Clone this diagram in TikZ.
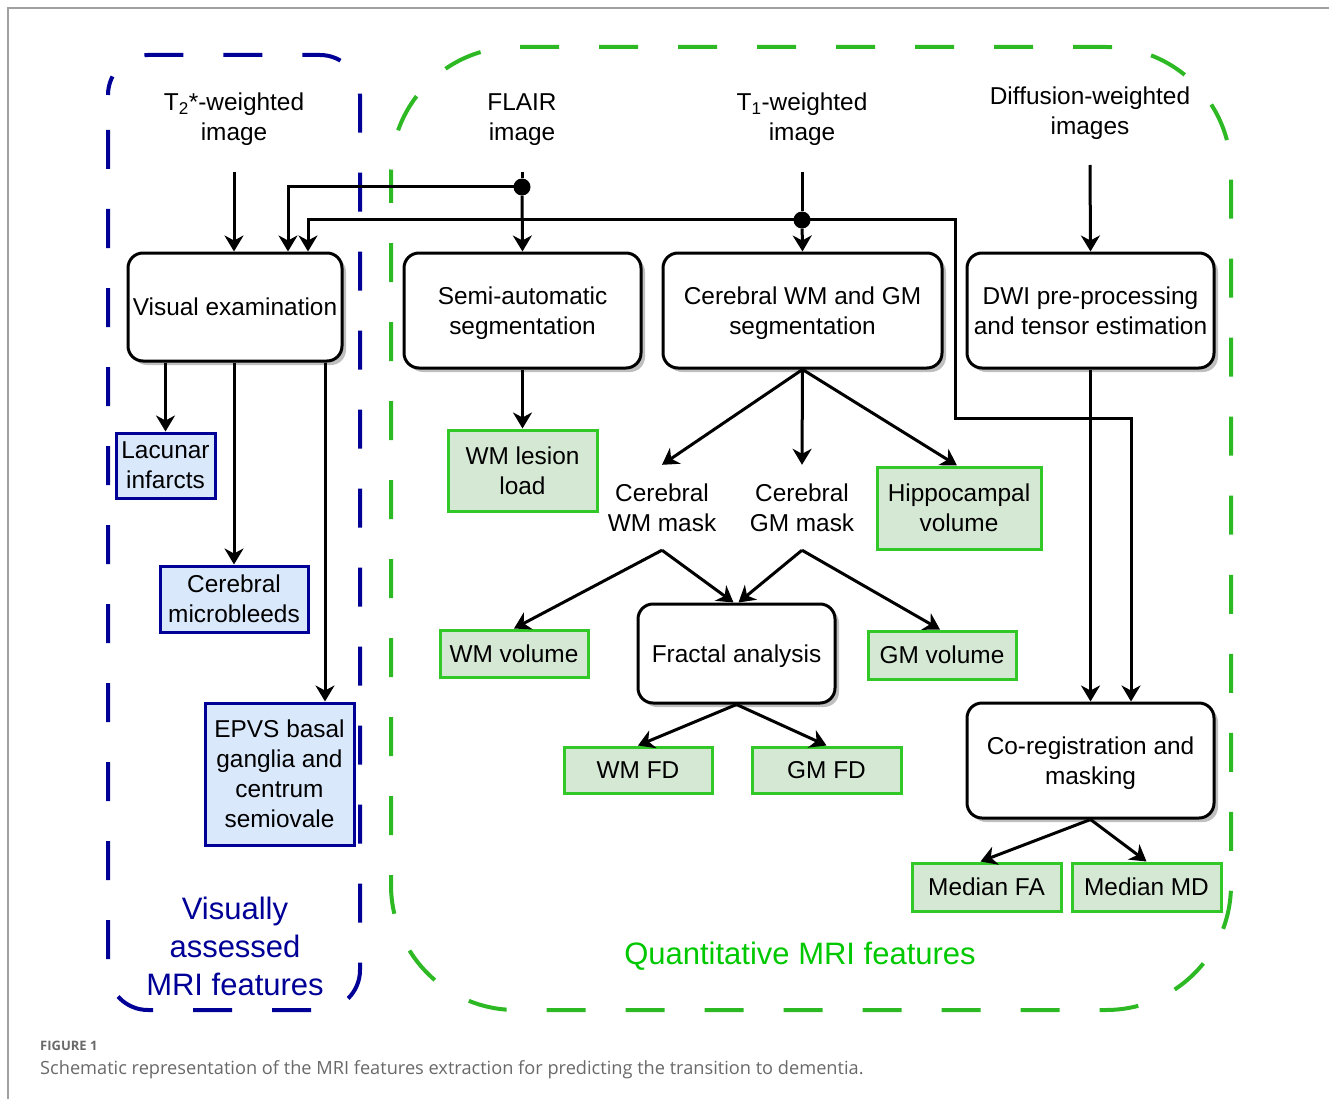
\documentclass[tikz,border=0pt]{standalone}
\usepackage{fontspec}
\setmainfont{Liberation Sans}
\newfontfamily\capfont{Open Sans}
\usetikzlibrary{arrows.meta,shadows}
\definecolor{vblue}{RGB}{0,0,150}
\definecolor{lblue}{RGB}{218,232,252}
\definecolor{dgreen}{RGB}{45,185,35}
\definecolor{bgreen}{RGB}{50,200,40}
\definecolor{lgreen}{RGB}{213,232,212}
\definecolor{tgreen}{RGB}{0,200,0}
\definecolor{framegray}{RGB}{160,160,160}
\definecolor{capgray}{RGB}{105,105,105}
\newcommand\boxfont{\fontsize{24.4}{30}\selectfont}
\newcommand\bigfont{\fontsize{31}{38}\selectfont}
\tikzset{
  proc/.style={draw=black, line width=3pt, rounded corners=15pt, fill=white,
    drop shadow={shadow xshift=4pt, shadow yshift=-4pt, fill=black!25, opacity=1},
    align=center, inner sep=0pt, font=\boxfont, text depth=0pt},
  bluebox/.style={draw=vblue, fill=lblue, line width=3pt, align=center, inner sep=0pt, font=\boxfont, text depth=0pt},
  greenbox/.style={draw=bgreen, fill=lgreen, line width=3pt, align=center, inner sep=0pt, font=\boxfont, text depth=0pt},
  lbl/.style={align=center, inner sep=0pt, font=\boxfont, text depth=0pt},
  arr/.style={-{Stealth[length=16pt,width=19pt,inset=5pt]}, line width=3pt},
  plainline/.style={line width=3pt},
  jdot/.style={circle, fill=black, inner sep=0pt, minimum size=17pt},
  outlineblue/.style={draw=vblue, line width=4pt, dash pattern=on 39pt off 40pt, rounded corners=40pt},
  outlinegreen/.style={draw=dgreen, line width=4pt, dash pattern=on 39pt off 40pt, rounded corners=125pt}
}
\begin{document}
\begin{tikzpicture}[x=1pt,y=-1pt]
\useasboundingbox (0,0) rectangle (1329,1099);
% frame
\draw[framegray, line width=1.5pt] (8,1099) -- (8,8) -- (1329,8);
% group outlines
\draw[outlineblue, dash phase=44pt] (108,55) rectangle (360,1010);
\draw[outlinegreen, dash phase=8pt] (391,47) rectangle (1231,1010);
% input labels
\node[lbl] (t2) at (234,117) {T\textsubscript{2}*-weighted\\image};
\node[lbl] (flair) at (522,117) {FLAIR\\image};
\node[lbl] (t1) at (802,117) {T\textsubscript{1}-weighted\\image};
\node[lbl] (dwil) at (1090,111) {Diffusion-weighted\\images};
\coordinate (t2o) at (234,172);
\coordinate (flo) at (522,172);
\coordinate (t1o) at (802,172);
\coordinate (dwo) at (1090,165);
% process boxes
\node[proc, minimum width=214pt, minimum height=108pt] (vis) at (235,307) {Visual examination};
\node[proc, minimum width=237pt, minimum height=115pt] (semi) at (522.5,310.5) {Semi-automatic\\segmentation};
\node[proc, minimum width=279pt, minimum height=115pt] (cseg) at (802.5,310.5) {Cerebral WM and GM\\segmentation};
\node[proc, minimum width=247pt, minimum height=115pt] (dwi) at (1090.5,310.5) {DWI pre-processing\\and tensor estimation};
\node[proc, minimum width=197pt, minimum height=99pt] (frac) at (736.5,653.5) {Fractal analysis};
\node[proc, minimum width=247pt, minimum height=115pt] (coreg) at (1090.5,760.5) {Co-registration and\\masking};
% visual features
\node[bluebox, minimum width=99pt, minimum height=65pt] (lac) at (165.5,465.5) {Lacunar\\infarcts};
\node[bluebox, minimum width=148pt, minimum height=66pt] (mcb) at (234,599) {Cerebral\\microbleeds};
\node[bluebox, minimum width=149pt, minimum height=142pt] (epvs) at (279.5,774) {EPVS basal\\ganglia and\\centrum\\semiovale};
% quantitative features
\node[greenbox, minimum width=149pt, minimum height=81pt] (wml) at (522.5,470.5) {WM lesion\\load};
\node[greenbox, minimum width=164pt, minimum height=82pt] (hip) at (959,508) {Hippocampal\\volume};
\node[greenbox, minimum width=148pt, minimum height=47pt] (wmv) at (514,653.5) {WM volume};
\node[greenbox, minimum width=148pt, minimum height=48pt] (gmv) at (942,655) {GM volume};
\node[greenbox, minimum width=148pt, minimum height=46pt] (wmfd) at (638,770) {WM FD};
\node[greenbox, minimum width=149pt, minimum height=46pt] (gmfd) at (826.5,770) {GM FD};
\node[greenbox, minimum width=149pt, minimum height=48pt] (mfa) at (986.5,887) {Median FA};
\node[greenbox, minimum width=149pt, minimum height=48pt] (mmd) at (1146.5,887) {Median MD};
% masks
\node[lbl, minimum height=85pt] (wmm) at (662,507.5) {Cerebral\\WM mask};
\node[lbl, minimum height=85pt] (gmm) at (802,507.5) {Cerebral\\GM mask};
% group labels
\node[align=center, inner sep=0pt, font=\bigfont, text=vblue, text depth=0pt] (vislab) at (235,946) {Visually\\assessed\\MRI features};
\node[inner sep=0pt, font=\bigfont, text=tgreen, text depth=0pt] (qlab) at (800,953) {Quantitative MRI features};
% junction dots
\node[jdot] (fdot) at (522,187) {};
\node[jdot] (tdot) at (802,220) {};
% connectors
\draw[arr] (t2o) -- (vis.north -| t2o);
\draw[plainline] (flo) -- (fdot);
\draw[arr] (fdot) -- (semi.north);
\draw[arr] (fdot.center) -| ([xshift=53pt]vis.north);
\draw[plainline] (t1o) -- (tdot);
\draw[arr] (tdot) -- (cseg.north);
\draw[arr] (tdot.center) -| ([xshift=73pt]vis.north);
\draw[arr] (tdot.center) -| (955,418) -| ([xshift=40.5pt]coreg.north);
\draw[arr] (dwo) -- (dwi.north);
\draw[arr] (dwi.south) -- (coreg.north);
\draw[arr] (lac.north |- vis.south) -- (lac.north);
\draw[arr] (mcb.north |- vis.south) -- (mcb.north);
\draw[arr] ([xshift=90pt]vis.south) -- ([xshift=45.5pt]epvs.north);
\draw[arr] (semi.south) -- (wml.north);
\draw[arr] (cseg.south) -- (wmm.north);
\draw[arr] (cseg.south) -- (gmm.north);
\draw[arr] (cseg.south) -- ([xshift=-2pt]hip.north);
\draw[arr] (wmm.south) -- (wmv.north);
\draw[arr] (wmm.south) -- ([xshift=-3pt]frac.north);
\draw[arr] (gmm.south) -- ([xshift=2pt]frac.north);
\draw[arr] (gmm.south) -- ([xshift=-2pt]gmv.north);
\draw[arr] (frac.south) -- (wmfd.north);
\draw[arr] (frac.south) -- (gmfd.north);
\draw[arr] (coreg.south) -- ([xshift=-6pt]mfa.north);
\draw[arr] (coreg.south) -- (mmd.north);
% caption
\node[anchor=west, inner sep=0pt, text=capgray, font=\capfont\bfseries\fontsize{13}{16}\selectfont] (figlab) at (40,1046) {FIGURE 1};
\node[anchor=west, inner sep=0pt, text=capgray, font=\capfont\fontsize{18.2}{20}\selectfont] (caption) at (40,1070) {Schematic representation of the MRI features extraction for predicting the transition to dementia.};
\end{tikzpicture}
\end{document}
